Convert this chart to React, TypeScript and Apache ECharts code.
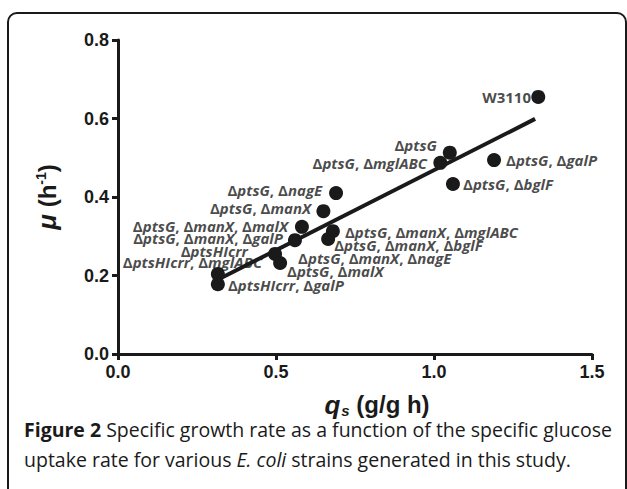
import React, { useEffect, useRef } from "react";
import * as echarts from "echarts";

// Measured strains: specific glucose uptake rate qs (g/g h) and growth rate mu (1/h)
const pointQs = [1.33, 1.05, 1.02, 1.19, 1.06, 0.69, 0.65, 0.582, 0.56, 0.68, 0.665, 0.497, 0.513, 0.316, 0.316];
const pointMu = [0.655, 0.513, 0.487, 0.494, 0.433, 0.41, 0.364, 0.324, 0.29, 0.313, 0.293, 0.255, 0.232, 0.204, 0.178];

// Linear fit line endpoints
const fitQs = [0.32, 1.32];
const fitMu = [0.191, 0.599];

// Strain labels and where they sit (data coordinates), side = which side of the anchor the text lies
const labelText = [
  "W3110",
  "ΔptsG",
  "ΔptsG, ΔmglABC",
  "ΔptsG, ΔgalP",
  "ΔptsG, ΔbglF",
  "ΔptsG, ΔnagE",
  "ΔptsG, ΔmanX",
  "ΔptsG, ΔmanX, ΔmalX",
  "ΔptsG, ΔmanX, ΔgalP",
  "ΔptsHIcrr",
  "ΔptsHIcrr, ΔmglABC",
  "ΔptsHIcrr, ΔgalP",
  "ΔptsG, ΔmalX",
  "ΔptsG, ΔmanX, ΔnagE",
  "ΔptsG, ΔmanX, ΔbglF",
  "ΔptsG, ΔmanX, ΔmglABC",
];
const labelQs = [1.307, 1.009, 0.978, 1.228, 1.092, 0.646, 0.611, 0.538, 0.522, 0.411, 0.456, 0.348, 0.535, 0.57, 0.684, 0.718];
const labelMu = [0.655, 0.532, 0.487, 0.494, 0.433, 0.418, 0.372, 0.326, 0.296, 0.262, 0.234, 0.176, 0.211, 0.245, 0.278, 0.311];
const labelSide = ["left", "left", "left", "right", "right", "left", "left", "left", "left", "left", "left", "right", "right", "right", "right", "right"];

const xTicks = [0, 0.5, 1.0, 1.5];
const yTicks = [0, 0.2, 0.4, 0.6, 0.8];

const captionLine1 = "Specific growth rate as a function of the specific glucose";
const captionBold = "Figure 2";
const captionLine2a = "uptake rate for various ";
const captionItalic = "E. coli";
const captionLine2b = " strains generated in this study.";

const INK = "#1a1a1a";

export default function App() {
  const ref = useRef<HTMLDivElement>(null);
  useEffect(() => {
    if (!ref.current) return;
    const chart = echarts.init(ref.current, null, { renderer: "svg" });
    const labelFont = "'Open Sans', 'DejaVu Sans', sans-serif";
    const axisFont = "'Liberation Sans', Arial, sans-serif";
    const capFont = "'Open Sans', sans-serif";
    const fmt = (s: string) => s.replace(/Δ([A-Za-z]+)/g, "{d|Δ}{i|$1}");
    const option: any = {
      animation: false,
      backgroundColor: "#ffffff",
      grid: { left: 118, top: 40, right: 35, bottom: 135 },
      xAxis: {
        type: "value",
        min: xTicks[0],
        max: xTicks[xTicks.length - 1],
        interval: 0.5,
        splitLine: { show: false },
        axisLine: { show: true, onZero: false, lineStyle: { color: INK, width: 3 } },
        axisTick: { show: true, length: 6, lineStyle: { color: INK, width: 3 } },
        axisLabel: {
          color: INK,
          fontFamily: axisFont,
          fontWeight: "bold",
          fontSize: 18,
          margin: 9,
          formatter: (v: number) => v.toFixed(1),
        },
        name: "{q|q}{s|s}{n| (g/g h)}",
        nameLocation: "middle",
        nameGap: 37,
        nameTextStyle: {
          padding: [0, 0, 0, 44],
          rich: {
            q: { fontFamily: axisFont, fontWeight: "bold", fontStyle: "italic", fontSize: 26, color: INK },
            s: { fontFamily: axisFont, fontWeight: "bold", fontStyle: "italic", fontSize: 15, color: INK, padding: [12, 0, 0, 1] },
            n: { fontFamily: axisFont, fontWeight: "bold", fontSize: 24, color: INK },
          },
        },
      },
      yAxis: {
        type: "value",
        min: yTicks[0],
        max: yTicks[yTicks.length - 1],
        interval: 0.2,
        splitLine: { show: false },
        axisLine: { show: true, onZero: false, lineStyle: { color: INK, width: 3 } },
        axisTick: { show: true, length: 6, lineStyle: { color: INK, width: 3 } },
        axisLabel: {
          color: INK,
          fontFamily: axisFont,
          fontWeight: "bold",
          fontSize: 18,
          margin: 9,
          formatter: (v: number) => v.toFixed(1),
        },
        name: "{mu|μ}{n| (h}{sup|-1}{n|)}",
        nameLocation: "middle",
        nameRotate: 90,
        nameGap: 58,
        nameTextStyle: {
          rich: {
            mu: { fontFamily: axisFont, fontWeight: "bold", fontStyle: "italic", fontSize: 26, color: INK },
            n: { fontFamily: axisFont, fontWeight: "bold", fontSize: 24, color: INK },
            sup: { fontFamily: axisFont, fontWeight: "bold", fontSize: 14, color: INK, padding: [0, 0, 12, 0] },
          },
        },
      },
      series: [
        {
          type: "line",
          data: fitQs.map((x, i) => [x, fitMu[i]]),
          showSymbol: false,
          symbol: "none",
          lineStyle: { color: INK, width: 4 },
          silent: true,
          z: 2,
        },
        {
          type: "scatter",
          data: pointQs.map((x, i) => [x, pointMu[i]]),
          symbolSize: 14,
          itemStyle: { color: INK, opacity: 1 },
          z: 3,
        },
        {
          type: "scatter",
          symbolSize: 0,
          silent: true,
          z: 4,
          data: labelText.map((t, i) => ({
            value: [labelQs[i], labelMu[i]],
            name: t,
            label: {
              show: true,
              position: labelSide[i] === "left" ? "left" : "right",
              distance: 0,
              formatter: fmt(t),
            },
          })),
          label: {
            show: true,
            color: INK,
            fontFamily: labelFont,
            fontWeight: "bold",
            fontSize: 15,
            rich: {
              d: { fontFamily: labelFont, fontWeight: "bold", fontSize: 15, color: INK },
              i: { fontFamily: labelFont, fontWeight: "bold", fontStyle: "italic", fontSize: 15, color: INK },
            },
          },
        },
      ],
      graphic: [
        {
          type: "rect",
          shape: { x: 8, y: 13, width: 618, height: 520, r: 9 },
          style: { fill: "none", stroke: INK, lineWidth: 2 },
          silent: true,
        },
        {
          type: "text",
          left: 24,
          top: 419,
          style: {
            text: "{b|" + captionBold + "} " + captionLine1,
            font: "19.5px " + capFont,
            fill: INK,
            rich: {
              b: { fontFamily: capFont, fontWeight: "bold", fontSize: 19.5, fill: INK },
            },
          },
        },
        {
          type: "text",
          left: 24,
          top: 449,
          style: {
            text: captionLine2a + "{i|" + captionItalic + "}" + captionLine2b,
            font: "19.5px " + capFont,
            fill: INK,
            rich: {
              i: { fontFamily: capFont, fontStyle: "italic", fontSize: 19.5, fill: INK },
            },
          },
        },
      ],
    };
    chart.setOption(option);
    return () => chart.dispose();
  }, []);
  return (
    <div
      ref={ref}
      style={{ position: "fixed", left: 0, top: 0, width: 627, height: 489, background: "#fff" }}
    />
  );
}
